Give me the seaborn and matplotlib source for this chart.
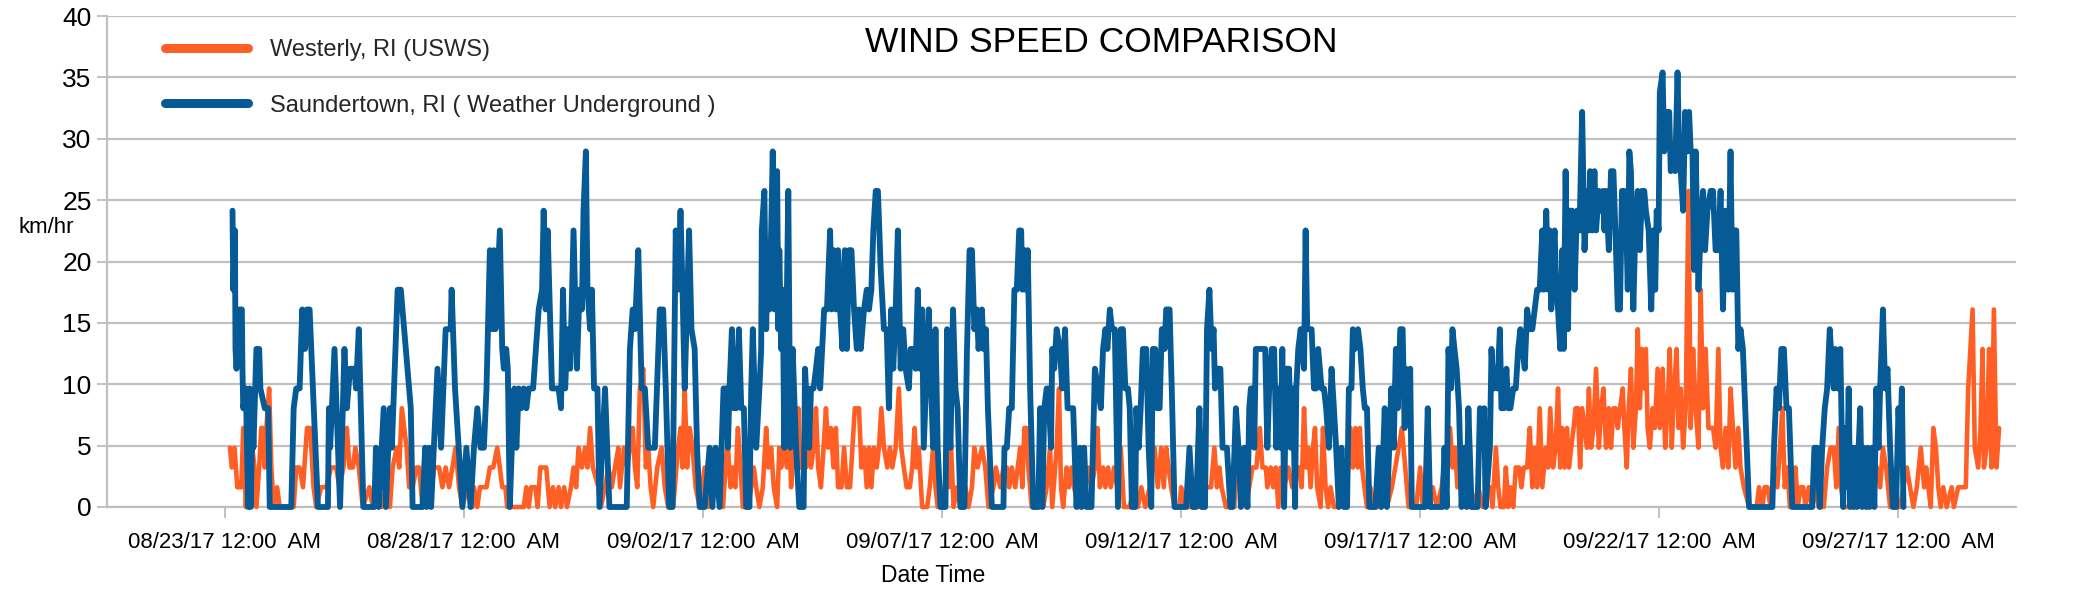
import matplotlib
matplotlib.use("Agg")
import matplotlib.pyplot as plt
import matplotlib.dates as mdates
from matplotlib.lines import Line2D
import seaborn as sns
import pandas as pd
import numpy as np

# ---------------- data ----------------
START = pd.Timestamp("2017-08-23 00:00")
MPH_TO_KMH = 1.609344

series_names = ["Westerly, RI (USWS)", "Saundertown, RI ( Weather Underground )"]

# hours since 08/23/17 12:00 AM, and wind speed in whole mph (chart shows km/h)
westerly_hours = [
    2.5,3.5,4.8,6.2,8.2,9.2,10.5,11.8,13.8,14.8,15.8,17.2,18.2,19.2,20.0,20.8,22.2,23.3,24.5,26.2,
    27.5,34.5,35.8,37.5,39.2,41.2,42.8,44.5,45.8,48.3,50.8,53.3,55.8,57.5,59.5,61.2,62.5,64.2,65.5,67.2,
    69.2,72.5,74.2,76.2,78.8,80.8,82.8,84.2,86.2,87.5,88.8,90.0,91.2,92.5,94.2,96.2,97.5,99.2,101.2,102.8,
    105.0,107.5,109.2,110.8,112.5,114.2,115.8,117.5,119.2,121.7,124.2,
    125.0,126.7,128.0,131.3,133.0,134.7,136.7,138.0,139.2,140.8,141.7,150.0,151.3,152.5,153.7,
    155.8,157.0,158.3,161.3,163.0,164.7,165.8,167.5,168.7,170.3,171.7,173.7,175.0,176.3,177.5,
    179.2,180.8,182.0,183.3,184.7,187.5,188.7,190.8,192.5,194.2,195.8,197.5,198.3,200.3,202.0,
    203.3,204.7,205.8,207.0,208.3,210.0,211.3,212.5,213.7,215.0,217.0,219.2,220.8,222.5,225.0,
    227.5,228.7,229.7,230.8,232.0,233.3,234.7,236.3,238.3,240.8,242.5,245.0,247.5,250.0,252.0,
    252.5,253.8,255.0,256.2,257.5,258.8,260.0,262.5,264.2,265.5,266.7,268.3,270.0,271.7,272.8,
    274.2,275.5,277.2,278.3,279.2,280.5,282.2,283.3,284.2,285.5,286.7,287.8,288.8,290.5,291.7,
    292.8,294.2,295.5,296.7,297.8,299.2,300.5,301.7,302.8,304.2,305.5,306.7,307.8,309.5,310.8,
    312.2,313.8,315.0,316.2,318.3,319.5,320.8,322.2,323.3,324.5,325.8,327.2,328.3,329.5,330.8,
    332.5,333.8,335.0,336.7,338.3,339.5,340.8,342.2,343.8,345.0,346.2,347.2,348.3,350.0,352.5,
    353.8,355.5,356.7,357.8,360.5,362.2,363.3,364.5,365.8,367.5,369.2,371.7,373.3,375.0,376.2,377.8,
    380.0,381.7,383.3,385.8,387.0,389.2,390.8,392.5,393.7,395.0,396.7,398.0,399.2,400.3,401.3,
    402.5,403.3,405.0,410.8,412.5,414.2,415.3,417.5,418.7,419.7,420.8,422.5,423.7,425.0,426.3,
    428.3,430.8,433.3,435.0,436.7,438.0,439.2,440.8,442.0,443.3,444.7,446.3,448.0,449.7,451.3,
    454.2,456.3,458.3,460.0,462.0,464.2,466.7,468.3,470.0,471.3,472.5,473.7,475.0,476.7,479.2,
    480.0,481.3,484.2,486.7,489.2,491.7,495.0,496.7,498.0,499.2,500.3,502.5,506.7,
    507.5,510.0,512.5,515.8,517.8,519.5,520.8,522.5,523.3,525.0,526.2,527.5,528.8,530.0,531.7,
    533.8,535.8,537.2,539.2,540.5,541.7,542.8,543.8,545.0,546.2,547.2,548.3,550.0,551.2,552.5,
    553.8,555.0,556.7,559.2,560.8,563.3,565.0,566.2,567.5,568.7,569.7,570.8,572.0,573.3,575.0,
    576.7,580.0,581.7,583.3,585.8,587.5,589.2,590.8,592.5,594.2,598.0,600.0,601.3,603.3,606.3,
    608.3,610.8,613.3,615.0,616.3,617.5,618.7,620.8,623.3,626.7,629.2,631.3,633.5,
    635.0,636.3,638.0,639.2,640.3,642.0,643.0,644.2,645.3,646.7,648.0,649.7,650.8,652.0,653.7,
    655.0,656.3,657.5,658.7,660.0,661.3,663.0,664.2,665.3,666.7,668.0,669.2,670.3,671.3,672.5,
    673.7,674.7,675.8,677.0,678.0,679.2,680.3,681.3,682.5,683.7,684.7,685.8,687.0,688.3,689.7,
    690.8,692.0,693.3,694.7,695.8,697.0,698.0,699.2,700.3,701.7,702.5,703.7,704.7,705.8,707.0,
    708.3,709.2,710.3,711.3,712.5,713.3,714.2,715.3,716.7,717.8,719.2,720.3,721.7,723.0,724.2,
    725.3,726.3,727.5,728.7,729.7,730.8,732.0,733.3,734.7,735.8,737.0,738.3,739.7,740.8,742.0,
    743.3,744.7,745.8,747.0,748.3,749.7,750.8,752.0,753.3,754.7,755.8,757.0,758.3,759.7,760.8,762.5,
    765.1,768.9,770.1,771.8,772.9,774.3,775.9,777.6,779.3,780.6,781.8,783.0,784.3,785.6,787.3,
    788.4,789.6,790.9,792.3,793.4,795.1,796.8,798.4,800.1,802.6,804.3,806.0,807.6,808.9,810.1,
    811.3,812.6,817.6,820.1,821.8,825.1,827.6,829.3,830.9,832.3,833.9,835.9,840.9,844.3,845.9,
    847.6,849.3,851.3,853.0,854.0,855.1,856.3,857.6,858.9,860.1,861.3,862.6,864.3,866.8,867.9,
    870.1,872.6,873.9,875.1,877.3,878.4,880.1,881.3,882.3,883.0,884.3,885.6,886.8,888.0,889.3,890.6,
]
westerly_mph = [
    3,2,3,1,1,4,0,3,3,2,0,2,4,4,2,4,6,2,0,1,
    0,0,2,2,1,4,4,1,0,1,1,2,2,1,2,4,2,2,3,2,
    0,1,0,1,0,1,0,2,3,2,5,4,3,1,1,2,2,0,2,0,
    2,2,1,2,1,2,3,1,0,1,0,
    1,0,1,1,2,2,3,2,1,1,0,0,1,0,1,
    1,0,2,2,0,1,0,1,0,1,0,1,2,1,3,
    2,3,2,4,2,1,0,1,2,1,2,3,1,3,2,
    3,4,2,1,6,7,2,3,1,0,2,3,1,0,0,
    3,4,2,6,2,4,3,1,0,2,0,2,1,0,3,
    3,1,2,1,4,2,0,0,1,2,1,0,1,4,2,
    3,1,0,3,2,3,2,4,1,3,2,5,2,3,2,
    3,2,3,5,2,1,3,5,3,4,2,4,1,1,3,
    1,1,3,5,5,2,3,1,3,1,3,2,3,5,3,
    2,3,2,3,6,3,2,1,1,2,4,2,3,0,0,
    1,3,1,0,0,2,1,3,0,1,0,1,0,1,3,2,
    3,2,0,1,2,1,2,2,1,2,1,2,3,1,4,
    4,2,0,0,1,3,0,3,6,1,0,2,1,2,1,
    0,0,2,1,2,4,1,2,1,2,1,2,1,3,0,
    0,1,0,1,0,1,3,1,3,1,3,2,1,0,0,
    1,0,0,1,0,1,1,3,1,2,1,0,0,
    2,1,0,2,2,4,2,2,1,2,1,2,0,2,1,
    2,1,2,2,1,5,2,3,1,3,4,1,0,4,1,
    0,1,0,0,1,1,4,2,4,2,4,2,1,0,1,
    0,0,1,0,1,2,3,4,2,0,0,2,0,0,1,
    0,1,3,4,2,3,1,1,0,0,1,0,1,
    1,0,3,1,0,0,2,0,1,0,2,2,1,2,2,
    4,1,3,1,5,1,3,2,5,2,3,6,2,4,2,
    4,2,3,4,5,5,2,5,4,3,6,3,4,7,3,
    5,6,3,5,3,5,5,4,5,6,4,2,5,7,3,
    5,9,5,8,6,8,4,3,5,4,7,4,7,3,5,
    8,3,6,8,4,6,3,5,16,4,8,5,3,11,5,
    8,4,4,4,3,8,3,2,4,2,6,4,2,4,2,1,
    0,0,1,0,1,1,0,2,1,3,5,1,2,0,0,
    2,0,1,1,0,1,0,1,0,0,2,3,3,1,4,
    1,0,0,2,0,0,1,2,1,3,2,0,0,2,1,
    0,1,3,1,2,1,0,4,3,1,0,1,0,1,0,
    1,1,1,6,10,3,2,4,8,2,3,8,2,10,2,4,
]

saundertown_hours = [
    3.8,4.2,5.0,5.3,5.8,7.2,8.5,8.8,9.2,10.5,11.7,12.5,13.0,13.8,14.3,15.8,17.2,17.8,20.0,21.7,
    22.5,33.3,34.5,35.8,37.5,38.8,40.2,41.2,42.5,46.7,51.7,52.2,52.8,55.0,57.8,60.0,61.2,62.8,65.0,65.8,
    67.2,69.5,75.0,75.8,77.2,79.7,80.8,82.8,83.8,86.7,88.3,93.3,94.2,99.2,100.5,101.2,102.5,103.5,106.7,108.5,
    110.8,113.3,113.8,115.5,119.2,121.2,123.3,
    125.0,126.7,128.3,130.0,131.3,133.0,134.2,135.0,135.8,138.0,139.2,140.0,141.2,142.0,143.0,
    144.7,145.3,146.3,147.5,148.7,150.0,151.3,152.5,154.7,157.5,159.2,160.0,161.0,162.0,164.2,
    167.5,168.7,169.7,170.8,172.0,173.3,175.0,176.7,178.0,179.2,180.0,181.2,182.0,183.3,184.2,
    185.3,187.0,188.0,190.8,193.0,201.7,203.3,204.7,205.8,207.5,209.2,210.8,212.5,214.2,215.8,
    218.3,220.0,221.3,223.0,224.7,226.3,227.5,228.7,229.7,230.8,233.0,234.2,235.8,237.0,238.3,
    240.8,243.3,244.7,246.3,248.3,250.3,252.0,
    252.5,253.3,254.5,255.5,256.7,258.0,259.2,260.5,261.7,263.3,264.2,265.0,266.7,268.3,269.2,
    269.5,270.8,271.7,272.5,273.3,274.2,275.0,275.8,277.2,277.8,278.3,279.2,280.0,280.8,281.7,
    282.8,283.8,285.0,286.7,288.3,290.5,291.2,292.2,293.3,294.2,295.5,296.7,297.8,298.8,300.8,
    302.2,303.8,304.5,305.5,306.7,307.8,308.8,310.0,311.2,312.2,313.3,314.5,315.8,317.2,318.3,
    319.2,320.8,322.2,323.3,324.5,325.5,326.7,327.8,329.2,330.8,332.2,333.3,334.5,335.5,336.7,
    337.8,339.2,340.5,341.7,343.3,344.2,345.5,346.7,347.8,348.8,350.0,350.8,352.2,353.3,354.2,
    355.5,356.7,357.8,359.2,361.7,362.5,363.3,364.2,365.5,366.7,367.8,369.2,371.2,372.5,373.8,
    375.0,376.2,377.5,378.3,
    380.0,380.8,382.0,383.0,385.0,390.8,391.3,392.5,393.7,395.0,396.3,397.5,398.7,399.7,400.3,
    401.3,402.0,403.0,404.2,405.8,408.3,409.2,410.3,411.3,412.5,413.3,414.7,415.3,416.3,417.5,
    419.2,420.3,421.7,423.0,424.2,425.8,427.5,429.2,430.0,431.3,432.5,435.0,436.7,438.3,439.7,
    440.8,442.0,443.0,444.2,445.3,446.7,448.3,449.7,450.8,452.0,453.3,454.2,455.3,457.0,457.5,
    458.7,459.7,460.8,462.5,463.7,465.0,465.8,467.0,468.0,469.2,470.3,471.7,472.5,474.2,475.3,
    476.7,482.5,484.2,485.8,487.5,489.2,490.3,492.0,493.0,494.2,495.3,496.3,497.0,498.3,499.7,
    500.8,503.0,504.7,505.8,
    507.5,508.8,510.0,511.7,513.3,514.2,515.0,515.8,516.7,517.5,518.3,519.5,520.8,522.2,523.3,
    524.2,525.5,526.7,527.8,528.8,530.0,530.8,531.7,532.8,534.2,535.0,536.2,537.2,537.8,538.8,
    540.0,541.7,542.5,543.3,545.5,546.7,547.8,548.8,550.5,551.7,552.8,554.2,555.5,556.7,557.8,
    559.2,560.5,561.7,563.3,564.2,565.5,566.2,567.2,568.8,570.0,571.2,572.2,573.3,574.5,577.5,
    579.2,580.5,582.2,583.3,584.5,585.5,586.7,587.8,588.8,590.0,591.2,592.2,592.8,593.8,595.0,
    595.8,602.5,603.8,605.0,611.2,612.2,613.3,614.2,615.5,616.2,617.2,618.3,619.5,620.8,622.2,
    623.3,624.2,625.8,628.8,630.0,631.2,632.2,632.8,
    635.0,635.8,636.7,637.5,638.7,640.0,640.8,642.0,643.3,644.2,645.3,646.7,648.0,649.2,650.3,
    651.3,652.5,653.7,655.0,656.3,657.5,658.7,660.0,661.3,662.0,663.3,664.2,665.0,665.8,666.7,
    667.5,668.3,669.2,670.3,671.3,672.0,673.0,674.2,675.0,676.3,677.5,678.7,680.0,681.3,682.5,
    683.7,684.7,685.3,686.3,687.5,688.3,689.7,690.8,691.7,692.5,693.3,694.7,695.8,697.0,698.0,
    699.2,700.3,701.3,702.5,703.3,704.2,705.0,705.8,707.0,708.0,709.2,710.3,711.3,712.5,713.3,
    714.7,716.0,717.0,718.0,718.7,719.7,720.3,721.7,722.5,723.3,724.2,725.0,725.8,727.0,728.0,
    729.2,730.0,730.8,732.0,733.0,734.2,735.0,735.8,736.7,737.5,738.3,739.7,740.8,742.0,743.0,
    744.2,745.8,747.0,748.3,749.7,750.8,752.0,753.3,754.7,755.8,756.7,758.0,758.7,759.7,760.8,762.0,
    765.1,776.8,777.6,778.9,780.1,781.3,782.6,783.9,785.1,786.8,796.8,797.9,799.3,800.6,801.8,
    803.1,804.3,805.6,806.8,807.6,808.4,809.6,810.9,812.3,813.4,814.3,815.1,815.9,816.8,817.6,
    818.4,819.3,820.1,820.9,821.8,822.6,823.9,824.6,825.6,826.8,828.0,829.0,830.1,830.9,832.3,
    833.4,834.6,835.9,837.3,838.9,840.1,840.9,841.8,842.6,
]
saundertown_mph = [
    15,11,14,8,7,10,10,7,5,6,0,6,0,5,3,8,8,6,5,5,
    0,0,5,6,6,10,8,10,10,0,0,5,3,8,0,8,5,7,7,6,
    9,0,0,3,0,5,0,5,3,11,11,5,0,0,3,0,3,0,7,3,
    9,9,11,6,0,3,0,
    3,5,3,3,6,13,9,13,9,14,8,7,8,7,0,
    5,6,3,6,5,6,5,6,6,10,11,15,10,14,6,
    6,5,11,6,9,7,14,7,11,10,15,18,11,9,11,
    6,6,0,6,0,0,8,10,9,13,6,6,3,3,3,
    10,10,6,0,0,14,11,15,11,6,14,9,8,3,0,
    0,3,0,3,0,6,6,
    3,6,9,5,5,9,5,5,0,0,6,9,3,6,8,
    14,16,9,13,10,14,18,10,17,9,13,8,11,3,8,
    16,3,8,3,0,0,7,5,3,6,6,7,8,6,10,
    10,14,10,13,10,13,10,8,13,8,13,13,10,8,10,
    8,10,11,10,11,14,16,16,12,9,9,5,10,7,10,
    14,7,9,7,6,8,8,7,11,7,10,3,7,10,7,
    3,9,3,0,0,9,5,3,10,6,5,0,0,8,13,
    13,9,10,8,
    10,8,9,5,0,0,3,3,5,5,11,11,14,14,11,
    13,11,13,6,0,0,5,0,5,6,6,3,8,7,9,
    8,6,9,5,5,5,0,3,0,3,0,0,7,6,5,
    8,9,8,10,9,9,0,9,9,6,6,5,0,0,5,
    3,5,8,8,3,0,8,8,5,5,9,8,10,10,6,
    0,0,3,0,0,5,0,0,9,11,8,9,6,7,7,
    3,3,0,0,
    5,3,0,3,0,5,6,6,3,8,8,8,8,8,3,
    6,8,8,3,6,3,8,0,7,7,3,6,0,6,8,
    9,7,14,9,9,6,6,8,6,6,5,3,7,5,3,
    0,3,0,0,6,6,9,8,9,8,6,5,5,0,0,
    3,0,5,0,3,6,3,8,5,9,9,4,7,5,7,
    0,0,5,0,0,3,0,8,6,9,8,7,5,0,3,
    0,5,0,0,5,3,5,0,
    3,8,6,7,6,9,5,5,7,5,5,6,6,8,9,
    8,7,10,9,9,10,11,11,14,11,15,11,14,10,13,
    14,11,10,8,13,8,17,9,15,15,11,15,14,20,13,
    16,14,17,14,17,14,16,15,16,14,16,13,17,17,14,
    10,10,16,16,15,11,18,17,10,14,16,13,16,16,15,
    14,10,14,11,15,14,21,22,18,19,20,20,17,18,17,
    22,18,17,15,20,18,20,18,18,12,18,11,14,16,13,
    15,16,16,13,13,16,10,15,11,18,11,14,14,8,9,8,
    0,0,3,6,5,8,8,5,5,0,0,3,3,0,3,
    5,6,9,7,6,8,6,8,0,4,1,6,0,3,0,
    3,0,3,5,0,3,0,3,0,3,0,6,3,6,10,
    6,7,3,0,0,5,3,6,0,
]

y_ticks = [0, 5, 10, 15, 20, 25, 30, 35, 40]
x_tick_dates = ["2017-08-23", "2017-08-28", "2017-09-02", "2017-09-07",
                "2017-09-12", "2017-09-17", "2017-09-22", "2017-09-27"]

for nm, hh, vv in [("westerly", westerly_hours, westerly_mph),
                   ("saundertown", saundertown_hours, saundertown_mph)]:
    if len(hh) != len(vv):
        raise ValueError(f"{nm}: {len(hh)} hours vs {len(vv)} values")

# ---------------- styling ----------------
ORANGE = "#ff5f24"
BLUE = "#065a96"
GRID = "#c0c0c0"

sns.set_theme(style="white")
plt.rcParams['font.family'] = ['Liberation Sans', 'DejaVu Sans']

W, H = 2074, 605
fig = plt.figure(figsize=(W / 100, H / 100), dpi=100)
ax = fig.add_axes([107 / W, 1 - 507 / H, (2016 - 107) / W, (507 - 16) / H])

df_w = pd.DataFrame({
    "time": START + pd.to_timedelta(westerly_hours, unit="h"),
    "kmh": np.array(westerly_mph) * MPH_TO_KMH,
})
df_s = pd.DataFrame({
    "time": START + pd.to_timedelta(saundertown_hours, unit="h"),
    "kmh": np.array(saundertown_mph) * MPH_TO_KMH,
})

sns.lineplot(data=df_w, x="time", y="kmh", ax=ax, color=ORANGE, linewidth=3.3,
             estimator=None, sort=False, clip_on=False, zorder=3)
sns.lineplot(data=df_s, x="time", y="kmh", ax=ax, color=BLUE, linewidth=4.2,
             estimator=None, sort=False, clip_on=False, zorder=4)

ax.set_ylim(0, 40)
ax.set_yticks(y_ticks)
ax.set_xlim(START + pd.Timedelta(hours=-59.2), START + pd.Timedelta(hours=899.1))
ax.set_xticks(pd.to_datetime(x_tick_dates))
ax.xaxis.set_major_formatter(mdates.DateFormatter("%m/%d/%y %I:%M  %p"))

ax.set_axisbelow(True)
ax.yaxis.grid(True, color=GRID, linewidth=1.6)
ax.xaxis.grid(False)
for side in ["top", "right"]:
    ax.spines[side].set_visible(False)
for side in ["left", "bottom"]:
    ax.spines[side].set_color(GRID)
    ax.spines[side].set_linewidth(1.6)

ax.tick_params(axis="x", length=8, width=1.4, color=GRID, pad=10,
               labelsize=16, labelcolor="black", direction="out", bottom=True)
ax.tick_params(axis="y", length=7, width=1.4, color=GRID, pad=4,
               labelsize=19, labelcolor="black", direction="out", left=True)
ax.set_xlabel("")
ax.set_ylabel("")

fig.text(1101 / W, 1 - 42 / H, "WIND SPEED COMPARISON", ha="center", va="center",
         fontsize=25.5, color="black")
fig.text(18.5 / W, 1 - 228 / H, "km/hr", ha="left", va="center", fontsize=16, color="black")
fig.text(933 / W, 1 - 575.5 / H, "Date Time", ha="center", va="center", fontsize=16.5,
         color="black")

handles = [Line2D([], [], color=ORANGE, linewidth=6.5, solid_capstyle="round"),
           Line2D([], [], color=BLUE, linewidth=6.5, solid_capstyle="round")]
fig.legend(handles, series_names, loc="upper left",
           bbox_to_anchor=(165 / W, 1 - 39 / H), bbox_transform=fig.transFigure,
           frameon=False, fontsize=17, handlelength=3.5, handletextpad=0.95,
           labelspacing=1.42, borderpad=0, borderaxespad=0)

fig.savefig("out.png", dpi=100)
